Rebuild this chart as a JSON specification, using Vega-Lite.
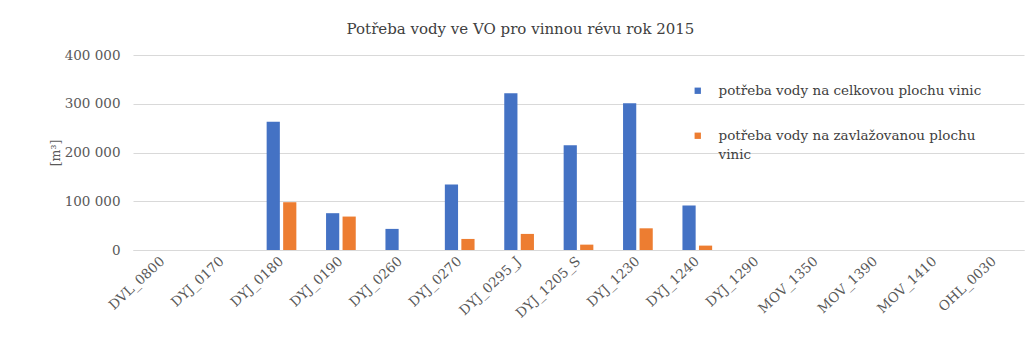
{
  "$schema": "https://vega.github.io/schema/vega-lite/v6.json",
  "width": 891,
  "height": 195,
  "autosize": {"type": "none"},
  "padding": {"left": 133, "top": 55, "right": 1, "bottom": 96},
  "background": "white",
  "title": {
    "text": "Potřeba vody ve VO pro vinnou révu rok 2015",
    "frame": "group",
    "anchor": "middle",
    "dx": -58,
    "baseline": "bottom",
    "offset": -4,
    "font": "DejaVu Serif",
    "fontSize": 15,
    "fontWeight": "normal",
    "color": "#404040"
  },
  "data": {
    "values": [
      {"lokalita": "DVL_0800", "rada": "potřeba vody na celkovou plochu vinic", "objem": 0},
      {"lokalita": "DVL_0800", "rada": "potřeba vody na zavlažovanou plochu vinic", "objem": 0},
      {"lokalita": "DYJ_0170", "rada": "potřeba vody na celkovou plochu vinic", "objem": 0},
      {"lokalita": "DYJ_0170", "rada": "potřeba vody na zavlažovanou plochu vinic", "objem": 0},
      {"lokalita": "DYJ_0180", "rada": "potřeba vody na celkovou plochu vinic", "objem": 263000},
      {"lokalita": "DYJ_0180", "rada": "potřeba vody na zavlažovanou plochu vinic", "objem": 98000},
      {"lokalita": "DYJ_0190", "rada": "potřeba vody na celkovou plochu vinic", "objem": 75500},
      {"lokalita": "DYJ_0190", "rada": "potřeba vody na zavlažovanou plochu vinic", "objem": 68600},
      {"lokalita": "DYJ_0260", "rada": "potřeba vody na celkovou plochu vinic", "objem": 43300},
      {"lokalita": "DYJ_0260", "rada": "potřeba vody na zavlažovanou plochu vinic", "objem": 0},
      {"lokalita": "DYJ_0270", "rada": "potřeba vody na celkovou plochu vinic", "objem": 134600},
      {"lokalita": "DYJ_0270", "rada": "potřeba vody na zavlažovanou plochu vinic", "objem": 22700},
      {"lokalita": "DYJ_0295_J", "rada": "potřeba vody na celkovou plochu vinic", "objem": 321600},
      {"lokalita": "DYJ_0295_J", "rada": "potřeba vody na zavlažovanou plochu vinic", "objem": 33000},
      {"lokalita": "DYJ_1205_S", "rada": "potřeba vody na celkovou plochu vinic", "objem": 215000},
      {"lokalita": "DYJ_1205_S", "rada": "potřeba vody na zavlažovanou plochu vinic", "objem": 11000},
      {"lokalita": "DYJ_1230", "rada": "potřeba vody na celkovou plochu vinic", "objem": 301000},
      {"lokalita": "DYJ_1230", "rada": "potřeba vody na zavlažovanou plochu vinic", "objem": 44500},
      {"lokalita": "DYJ_1240", "rada": "potřeba vody na celkovou plochu vinic", "objem": 91300},
      {"lokalita": "DYJ_1240", "rada": "potřeba vody na zavlažovanou plochu vinic", "objem": 9000},
      {"lokalita": "DYJ_1290", "rada": "potřeba vody na celkovou plochu vinic", "objem": 0},
      {"lokalita": "DYJ_1290", "rada": "potřeba vody na zavlažovanou plochu vinic", "objem": 0},
      {"lokalita": "MOV_1350", "rada": "potřeba vody na celkovou plochu vinic", "objem": 0},
      {"lokalita": "MOV_1350", "rada": "potřeba vody na zavlažovanou plochu vinic", "objem": 0},
      {"lokalita": "MOV_1390", "rada": "potřeba vody na celkovou plochu vinic", "objem": 0},
      {"lokalita": "MOV_1390", "rada": "potřeba vody na zavlažovanou plochu vinic", "objem": 0},
      {"lokalita": "MOV_1410", "rada": "potřeba vody na celkovou plochu vinic", "objem": 0},
      {"lokalita": "MOV_1410", "rada": "potřeba vody na zavlažovanou plochu vinic", "objem": 0},
      {"lokalita": "OHL_0030", "rada": "potřeba vody na celkovou plochu vinic", "objem": 0},
      {"lokalita": "OHL_0030", "rada": "potřeba vody na zavlažovanou plochu vinic", "objem": 0}
    ]
  },
  "mark": {"type": "bar"},
  "encoding": {
    "x": {
      "field": "lokalita",
      "type": "nominal",
      "sort": null,
      "scale": {"paddingInner": 0.5, "paddingOuter": 0.25},
      "axis": {
        "title": null,
        "labelAngle": -43,
        "labelAlign": "right",
        "labelBaseline": "middle",
        "labelPadding": 9,
        "labelFont": "DejaVu Serif",
        "labelFontSize": 13.5,
        "labelColor": "#595959",
        "ticks": false,
        "domainColor": "#D9D9D9",
        "grid": false
      }
    },
    "xOffset": {
      "field": "rada",
      "type": "nominal",
      "scale": {"paddingInner": 0.2}
    },
    "y": {
      "field": "objem",
      "type": "quantitative",
      "scale": {"domain": [0, 400000]},
      "axis": {
        "title": "[m³]",
        "titleFont": "DejaVu Serif",
        "titleFontSize": 12.5,
        "titleFontWeight": "normal",
        "titleColor": "#595959",
        "titlePadding": 2,
        "values": [0, 100000, 200000, 300000, 400000],
        "labelExpr": "replace(format(datum.value, ','), ',', ' ')",
        "labelFont": "DejaVu Serif",
        "labelFontSize": 13.5,
        "labelColor": "#595959",
        "labelPadding": 13,
        "ticks": false,
        "domain": false,
        "gridColor": "#D9D9D9"
      }
    },
    "color": {
      "field": "rada",
      "type": "nominal",
      "scale": {
        "domain": ["potřeba vody na celkovou plochu vinic", "potřeba vody na zavlažovanou plochu vinic"],
        "range": ["#4472C4", "#ED7D31"]
      },
      "legend": {
        "title": null,
        "orient": "none",
        "legendX": 558,
        "legendY": 29,
        "symbolType": "square",
        "symbolSize": 40,
        "symbolStrokeWidth": 0,
        "labelFont": "DejaVu Serif",
        "labelFontSize": 13.5,
        "labelColor": "#404040",
        "labelLimit": 400,
        "labelOffset": 14,
        "labelBaseline": "middle",
        "rowPadding": 30,
        "labelExpr": "datum.label == 'potřeba vody na zavlažovanou plochu vinic' ? ['potřeba vody na zavlažovanou plochu', 'vinic'] : datum.label",
        "encode": {
          "labels": {"update": {"lineHeight": {"value": 19}}}
        }
      }
    }
  },
  "config": {
    "view": {"stroke": null}
  }
}
